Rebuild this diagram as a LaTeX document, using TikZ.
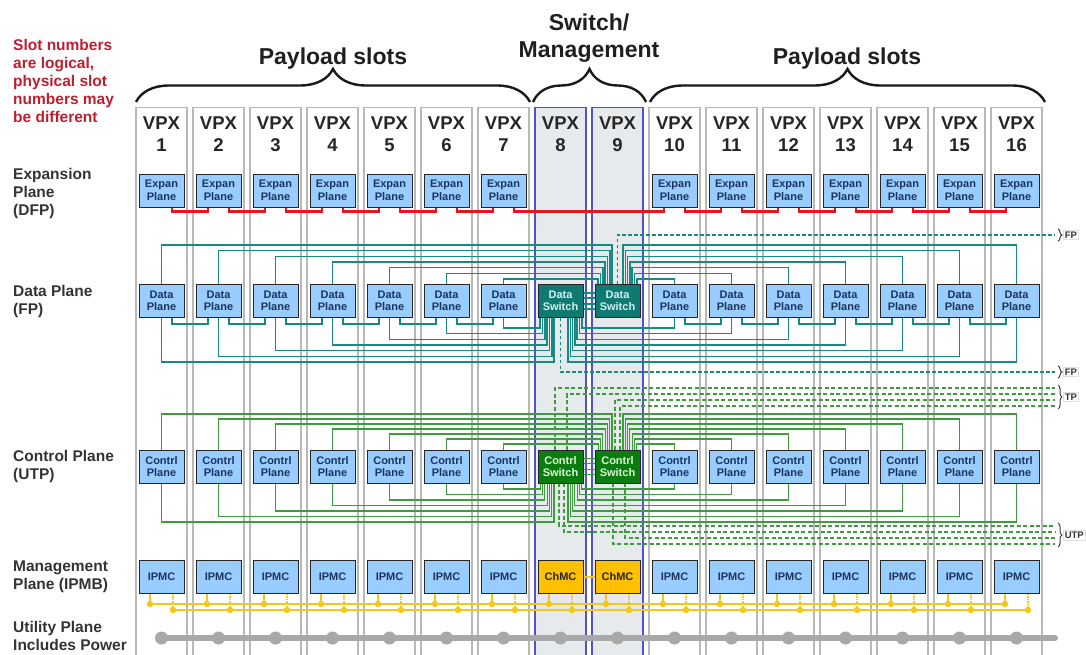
\documentclass[tikz,border=0pt]{standalone}
\usepackage{fontspec}
\setmainfont{Liberation Sans}
\usetikzlibrary{decorations.pathreplacing}
\pgfdeclarelayer{back}
\pgfdeclarelayer{mid}
\pgfsetlayers{back,mid,main}
\definecolor{slotgray}{HTML}{B8B8B8}
\definecolor{swfill}{HTML}{E7EAEC}
\definecolor{swborder}{HTML}{5353C8}
\definecolor{boxblue}{HTML}{99CCFF}
\definecolor{boxtext}{HTML}{1C355E}
\definecolor{tealln}{HTML}{178B82}
\definecolor{tealsw}{HTML}{0E7A72}
\definecolor{swtext}{HTML}{D4F1EE}
\definecolor{greenln}{HTML}{3E9B3E}
\definecolor{greensw}{HTML}{0B7D10}
\definecolor{ctrltext}{HTML}{DDF7D6}
\definecolor{redln}{HTML}{E4161E}
\definecolor{ylw}{HTML}{F2C81E}
\definecolor{chmcfill}{HTML}{FFC000}
\definecolor{utilgray}{HTML}{A8A8A8}
\definecolor{notered}{HTML}{BE1E2D}
\definecolor{labelgray}{HTML}{333333}
\tikzset{
  slotbox/.style={draw=slotgray, line width=1.5, minimum width=51, minimum height=570, inner sep=0, anchor=north},
  swslot/.style={slotbox, draw=swborder, fill=swfill, line width=1.2},
  vpxtext/.style={font=\fontsize{18.5}{22}\selectfont\bfseries, text=black!85, inner sep=0, anchor=base},
  card/.style={draw=black!85, line width=0.9, minimum width=45, minimum height=33, inner sep=0, align=center, font=\fontsize{11}{12.5}\selectfont\bfseries},
  bluecard/.style={card, fill=boxblue, text=boxtext},
  datasw/.style={card, fill=tealsw, text=swtext},
  ctrlsw/.style={card, fill=greensw, text=ctrltext},
  chmccard/.style={card, fill=chmcfill, text=black!85},
  dline/.style={draw=tealln, line width=1.6},
  cline/.style={draw=greenln, line width=1.1},
  fpdash/.style={draw=tealln, line width=1.4, dash pattern=on 3.5pt off 2.5pt},
  tpdash/.style={draw=greenln, line width=1.3, dash pattern=on 4pt off 2.5pt},
  redlink/.style={draw=redln, line width=2.6},
  ybus/.style={draw=ylw, line width=1.6},
  ystub/.style={draw=ylw, line width=1.2, dash pattern=on 1.5pt off 1pt},
  ydot/.style={circle, fill=ylw, inner sep=0, minimum size=6.5},
  udot/.style={circle, fill=utilgray, inner sep=0, minimum size=13},
  utilline/.style={draw=utilgray, line width=6, line cap=round},
  headtext/.style={font=\fontsize{23}{27}\selectfont\bfseries, text=black!88, inner sep=0, anchor=base},
  sidetext/.style={font=\fontsize{15.5}{17.5}\selectfont\bfseries, text=labelgray, inner sep=0, anchor=base west},
  notetext/.style={font=\fontsize{15.5}{18}\selectfont\bfseries, text=notered, inner sep=0, anchor=base west},
  bigbrace/.style={decorate, decoration={brace, amplitude=33}, line width=2.4, draw=black!90},
  smallbrace/.style={decorate, decoration={brace, amplitude=4}, line width=1, draw=black!75},
  tagtext/.style={font=\fontsize{9.5}{11}\selectfont\bfseries, text=labelgray, draw=black!12, line width=0.6, inner sep=1.5, anchor=west},
}
\begin{document}
\begin{tikzpicture}[x=1pt,y=-1pt]
\useasboundingbox (0,0) rectangle (1086,655);
% ---------- slots ----------
\begin{pgfonlayer}{back}
\foreach \i in {1,...,7,10,11,...,16}{
  \pgfmathsetmacro\cx{161.5+57*(\i-1)}
  \node[slotbox] (slot\i) at (\cx,107) {};
}
\foreach \i in {8,9}{
  \pgfmathsetmacro\cx{161.5+57*(\i-1)}
  \node[swslot] (slot\i) at (\cx,107) {};
}
\end{pgfonlayer}
% ---------- VPX labels ----------
\foreach \i in {1,...,16}{
  \pgfmathsetmacro\cx{161.5+57*(\i-1)}
  \node[vpxtext] (vpx\i) at (\cx,130) {VPX};
  \node[vpxtext] (num\i) at (\cx,152) {\i};
}
% ---------- cards ----------
\foreach \i in {1,...,7,10,11,...,16}{
  \pgfmathsetmacro\cx{161.5+57*(\i-1)}
  \node[bluecard] (e\i) at (\cx,190.5) {Expan\\Plane};
  \node[bluecard] (d\i) at (\cx,301) {Data\\Plane};
  \node[bluecard] (c\i) at (\cx,466.5) {Contrl\\Plane};
  \node[bluecard] (m\i) at (\cx,577) {IPMC};
}
\node[datasw] (d8) at (560.5,301) {Data\\Switch};
\node[datasw] (d9) at (617.5,301) {Data\\Switch};
\node[ctrlsw] (c8) at (560.5,466.5) {Contrl\\Switch};
\node[ctrlsw] (c9) at (617.5,466.5) {Contrl\\Switch};
\node[chmccard] (m8) at (560.5,577) {ChMC};
\node[chmccard] (m9) at (617.5,577) {ChMC};
% ---------- IPMB dots, utility dots ----------
\foreach \i in {1,...,16}{
  \pgfmathsetmacro\cx{161.5+57*(\i-1)}
  \node[ydot] (yl\i) at (\cx-11.5,604) {};
  \node[ydot] (yr\i) at (\cx+11.5,610) {};
  \node[udot] (u\i) at (\cx,638) {};
}
\coordinate (uEnd) at (1055,638);
% ---------- right-side coordinates ----------
\coordinate (fpA) at (1055,235);
\coordinate (fpB) at (1055,372);
\coordinate (tp1) at (1055,388);
\coordinate (tp2) at (1055,394);
\coordinate (tp3) at (1055,400);
\coordinate (tp4) at (1055,406);
\coordinate (ut1) at (1055,526);
\coordinate (ut2) at (1055,532);
\coordinate (ut3) at (1055,538);
\coordinate (ut4) at (1055,544);
% ---------- connectors ----------
\begin{pgfonlayer}{mid}
\foreach \a/\b in {1/2,2/3,3/4,4/5,5/6,6/7,7/10,10/11,11/12,12/13,13/14,14/15,15/16}{
  \draw[redlink] ([xshift=10.5]e\a.south) -- ++(0,4) -| ([xshift=-10.5]e\b.south);
}
\foreach \a/\b in {1/2,2/3,3/4,4/5,5/6,6/7,10/11,11/12,12/13,13/14,14/15,15/16}{
  \draw[dline] ([xshift=10.5]d\a.south) -- ++(0,6) -| ([xshift=-10.5]d\b.south);
}
% data and control planes to switches
\foreach \i in {1,...,7}{
  \pgfmathsetmacro\yt{245+(\i-1)*5.67}
  \pgfmathsetmacro\xt{612-(\i-1)*2.3}
  \pgfmathsetmacro\yb{362-(\i-1)*5.67}
  \pgfmathsetmacro\xb{554-(\i-1)*2.3}
  \draw[dline] (d\i.north) |- (\xt,\yt) -- (\xt,0 |- d9.north);
  \draw[dline] (d\i.south) |- (\xb,\yb) -- (\xb,0 |- d8.south);
  \pgfmathsetmacro\ct{414+(\i-1)*5}
  \pgfmathsetmacro\cb{522-(\i-1)*5.5}
  \draw[cline] (c\i.north) |- (\xt,\ct) -- (\xt,0 |- c9.north);
  \draw[cline] (c\i.south) |- (\xb,\cb) -- (\xb,0 |- c8.south);
}
\foreach \j in {10,...,16}{
  \pgfmathsetmacro\m{17-\j}
  \pgfmathsetmacro\yt{245+(\m-1)*5.67}
  \pgfmathsetmacro\xt{623+(\m-1)*2.3}
  \pgfmathsetmacro\yb{362-(\m-1)*5.67}
  \pgfmathsetmacro\xb{568+(\m-1)*2.3}
  \draw[dline] (d\j.north) |- (\xt,\yt) -- (\xt,0 |- d9.north);
  \draw[dline] (d\j.south) |- (\xb,\yb) -- (\xb,0 |- d8.south);
  \pgfmathsetmacro\ct{414+(\m-1)*5}
  \pgfmathsetmacro\cb{522-(\m-1)*5.5}
  \draw[cline] (c\j.north) |- (\xt,\ct) -- (\xt,0 |- c9.north);
  \draw[cline] (c\j.south) |- (\xb,\cb) -- (\xb,0 |- c8.south);
}
\foreach \s in {-8.25,-2.75,2.75,8.25}{
  \draw[dline] ([yshift=\s]d8.east) -- ([yshift=\s]d9.west);
  \draw[cline] ([yshift=\s]c8.east) -- ([yshift=\s]c9.west);
}
% dashed external links
\draw[fpdash] (d9.north) |- (fpA);
\draw[fpdash] (d8.south) |- (fpB);
\draw[tpdash] ([xshift=-5.5]c8.north) |- (tp1);
\draw[tpdash] ([xshift=6.5]c8.north) |- (tp2);
\draw[tpdash] ([xshift=-2.5]c9.north) |- (tp3);
\draw[tpdash] ([xshift=2.5]c9.north) |- (tp4);
\draw[tpdash] ([xshift=-1.5]c8.south) |- (ut1);
\draw[tpdash] ([xshift=3.5]c8.south) |- (ut2);
\draw[tpdash] ([xshift=7.5]c9.south) |- (ut3);
\draw[tpdash] ([xshift=-4.5]c9.south) |- (ut4);
% IPMB
\draw[ybus] (yl1.center) -- (yl16.center);
\draw[ybus] (yr1.center) -- (yr16.center);
\foreach \i in {1,...,16}{
  \draw[ybus, line width=1.2] (m\i.south -| yl\i) -- (yl\i.center);
  \draw[ystub] (m\i.south -| yr\i) -- (yr\i.center);
}
\draw[ybus] (m8.east) -- (m9.west);
% utility
\draw[utilline] (u1.center) -- (uEnd);
\end{pgfonlayer}
% ---------- right braces and tags ----------
\draw[smallbrace] (1058,229) -- (1058,241);
\node[tagtext] (tagfpa) at (1063,235) {FP};
\draw[smallbrace] (1058,366) -- (1058,378);
\node[tagtext] (tagfpb) at (1063,372) {FP};
\draw[smallbrace] (1058,385) -- (1058,409);
\node[tagtext] (tagtp) at (1063,397) {TP};
\draw[smallbrace] (1058,523) -- (1058,547);
\node[tagtext] (tagutp) at (1063,535) {UTP};
% ---------- top braces and headings ----------
\draw[bigbrace] (136,102) -- (530,102);
\draw[bigbrace] (533,102) -- (646,102);
\draw[bigbrace] (650,102) -- (1045,102);
\node[headtext] (hl) at (333,65) {Payload slots};
\node[headtext] (hr) at (847,65) {Payload slots};
\node[headtext] (hs1) at (589,31) {Switch/};
\node[headtext] (hs2) at (589,58) {Management};
% ---------- note ----------
\node[notetext] (n1) at (13,51) {Slot numbers};
\node[notetext] (n2) at (13,69) {are logical,};
\node[notetext] (n3) at (13,87) {physical slot};
\node[notetext] (n4) at (13,105) {numbers may};
\node[notetext] (n5) at (13,123) {be different};
% ---------- side labels ----------
\node[sidetext] (l1a) at (13,180) {Expansion};
\node[sidetext] (l1b) at (13,197.5) {Plane};
\node[sidetext] (l1c) at (13,215) {(DFP)};
\node[sidetext] (l2a) at (13,296.5) {Data Plane};
\node[sidetext] (l2b) at (13,314) {(FP)};
\node[sidetext] (l3a) at (13,461.5) {Control Plane};
\node[sidetext] (l3b) at (13,479) {(UTP)};
\node[sidetext] (l4a) at (13,571.5) {Management};
\node[sidetext] (l4b) at (13,589) {Plane (IPMB)};
\node[sidetext] (l5a) at (13,632) {Utility Plane};
\node[sidetext] (l5b) at (13,650) {Includes Power};
\end{tikzpicture}
\end{document}
